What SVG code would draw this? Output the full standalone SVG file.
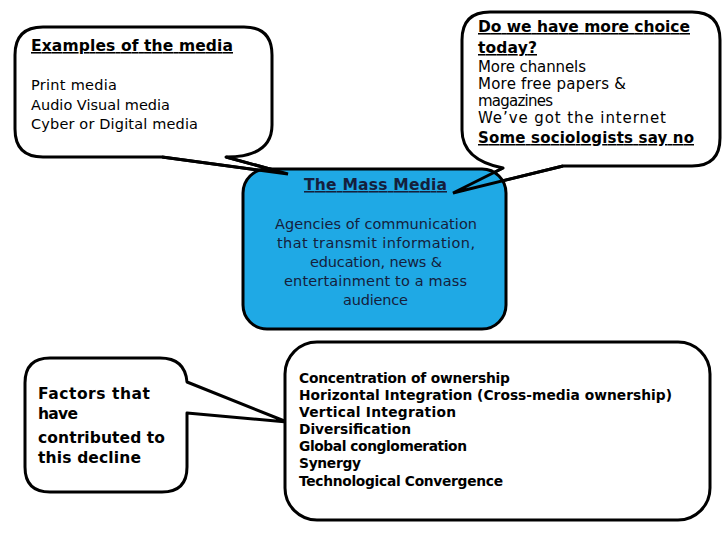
<svg xmlns="http://www.w3.org/2000/svg" width="728" height="546" viewBox="0 0 728 546">
<style>
.shape{fill:#fff;stroke:#000;stroke-width:3;stroke-linejoin:round}
.tail{fill:none;stroke:#000;stroke-width:3;stroke-linejoin:miter}
text{font-family:"DejaVu Sans","Liberation Sans",sans-serif;fill:#000}
.b{font-weight:bold}
.u{text-decoration:underline}
.blue text{fill:#15203c}
</style>
<rect width="728" height="546" fill="#fff"/>
<g id="examples">
<path class="shape" d="M15,55 Q15,27 43,27 H244 Q272,27 272,55 V125 Q272,157 226,157 L288,174 L162,157 H43 Q15,157 15,129 Z"/>
<text x="31" y="51" class="b u" font-size="15.5" textLength="202">Examples of the media</text>
<g font-size="14.5">
<text x="31" y="90" textLength="86">Print media</text>
<text x="31" y="110" textLength="139">Audio Visual media</text>
<text x="31" y="129" textLength="167">Cyber or Digital media</text>
</g>
</g>
<g id="choice">
<path class="shape" d="M462,40 Q462,12 490,12 H692 Q720,12 720,40 V138 Q720,166 692,166 H563 L453,193 L503,168 Q462,160 462,130 Z"/>
<text x="478" y="32" class="b u" font-size="15.5" textLength="212">Do we have more choice</text>
<text x="478" y="53" class="b u" font-size="15.5" textLength="59">today?</text>
<g font-size="15">
<text x="478" y="72" textLength="108">More channels</text>
<text x="478" y="89" textLength="148">More free papers &amp;</text>
<text x="478" y="106" textLength="75">magazines</text>
<text x="478" y="123" textLength="188">We’ve got the internet</text>
</g>
<text x="478" y="143" class="b u" font-size="15" textLength="216">Some sociologists say no</text>
</g>
<g id="mass-media" class="blue">
<rect x="243" y="169" width="263" height="160" rx="24" fill="#1fa9e5" stroke="#000" stroke-width="3"/>
<text x="304" y="190" class="b u" font-size="15.5" textLength="143">The Mass Media</text>
<g font-size="14.5">
<text x="275" y="229" textLength="202">Agencies of communication</text>
<text x="277" y="248" textLength="198">that transmit information,</text>
<text x="310" y="267" textLength="132">education, news &amp;</text>
<text x="284" y="286" textLength="183">entertainment to a mass</text>
<text x="343" y="305" textLength="65">audience</text>
</g>
</g>
<g id="factors">
<path class="shape" d="M25,383 Q25,358 50,358 H160 Q185,358 187,382 L287,422 L187,413 V467 Q187,492 162,492 H50 Q25,492 25,467 Z"/>
<g class="b" font-size="15.5">
<text x="38" y="399" textLength="112">Factors that</text>
<text x="38" y="419" textLength="40">have</text>
<text x="38" y="443" textLength="127">contributed to</text>
<text x="38" y="463" textLength="103">this decline</text>
</g>
</g>
<g id="decline-list">
<rect x="285" y="342" width="425" height="178" rx="32" class="shape"/>
<g class="b" font-size="13.8">
<text x="299" y="383" textLength="211">Concentration of ownership</text>
<text x="299" y="400" textLength="373">Horizontal Integration (Cross-media ownership)</text>
<text x="299" y="417" textLength="157">Vertical Integration</text>
<text x="299" y="434" textLength="112">Diversification</text>
<text x="299" y="451" textLength="168">Global conglomeration</text>
<text x="299" y="468" textLength="62">Synergy</text>
<text x="299" y="486" textLength="204">Technological Convergence</text>
</g>
</g>
<g id="connectors">
<polyline class="tail" points="226,157 288,174 162,157"/>
<polyline class="tail" points="563,166 453,193 503,168"/>
</g>
</svg>
